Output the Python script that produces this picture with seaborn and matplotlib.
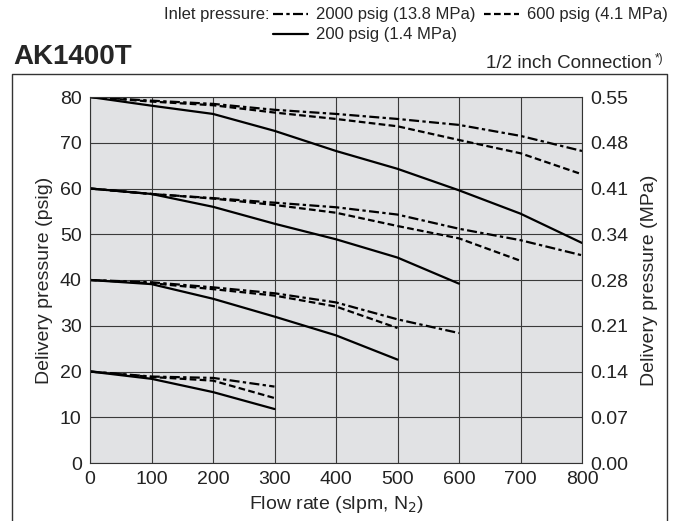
import numpy as np
import pandas as pd
import matplotlib
matplotlib.use("Agg")
import matplotlib.pyplot as plt
import seaborn as sns
from matplotlib.lines import Line2D

# ==== data ====
flow_ticks = [0, 100, 200, 300, 400, 500, 600, 700, 800]
psig_ticks = [0, 10, 20, 30, 40, 50, 60, 70, 80]
mpa_labels = ["0.00", "0.07", "0.14", "0.21", "0.28", "0.34", "0.41", "0.48", "0.55"]

# set point 80 psig
x80 = [0, 100, 200, 300, 400, 500, 600, 700, 800]
y80_2000 = [80, 79.2, 78.5, 77.2, 76.3, 75.2, 73.9, 71.5, 68.2]
y80_600 = [80, 79.0, 78.2, 76.6, 75.2, 73.6, 70.6, 67.7, 63.1]
y80_200 = [80, 78.1, 76.3, 72.6, 68.2, 64.3, 59.6, 54.5, 48.1]

# set point 60 psig
x60_2000 = [0, 100, 200, 300, 400, 500, 600, 700, 800]
y60_2000 = [60, 58.8, 57.9, 56.9, 55.9, 54.3, 51.2, 48.7, 45.4]
x60_600 = [0, 100, 200, 300, 400, 500, 600, 700]
y60_600 = [60, 58.8, 57.8, 56.4, 54.7, 51.8, 49.1, 44.2]
x60_200 = [0, 100, 200, 300, 400, 500, 600]
y60_200 = [60, 58.8, 56.0, 52.3, 48.9, 44.9, 39.2]

# set point 40 psig
x40_2000 = [0, 100, 200, 300, 400, 500, 600]
y40_2000 = [40, 39.5, 38.4, 37.1, 35.1, 31.4, 28.4]
x40_600 = [0, 100, 200, 300, 400, 500]
y40_600 = [40, 39.3, 38.0, 36.6, 34.2, 29.5]
x40_200 = [0, 100, 200, 300, 400, 500]
y40_200 = [40, 39.1, 35.9, 32.0, 27.9, 22.6]

# set point 20 psig
x20 = [0, 100, 200, 300]
y20_2000 = [20, 18.9, 18.6, 16.7]
y20_600 = [20, 18.8, 18.0, 14.2]
y20_200 = [20, 18.4, 15.5, 11.8]

curves = [
    ("2000", x80, y80_2000), ("600", x80, y80_600), ("200", x80, y80_200),
    ("2000", x60_2000, y60_2000), ("600", x60_600, y60_600), ("200", x60_200, y60_200),
    ("2000", x40_2000, y40_2000), ("600", x40_600, y40_600), ("200", x40_200, y40_200),
    ("2000", x20, y20_2000), ("600", x20, y20_600), ("200", x20, y20_200),
]

styles = {"2000": (0, (4.5, 1.5, 1.5, 1.5)), "600": (0, (3, 1.5)), "200": "-"}

sns.set_theme(style="white")
plt.rcParams["font.family"] = ["Liberation Sans", "DejaVu Sans"]

fig = plt.figure(figsize=(6.83, 5.21), dpi=100)
ax = fig.add_axes([90 / 683, 1 - 463 / 521, 492 / 683, 366 / 521])
ax.set_facecolor("#e1e2e4")

for inlet, xs, ys in curves:
    df = pd.DataFrame({"flow": xs, "p": ys})
    sns.lineplot(data=df, x="flow", y="p", ax=ax, color="black",
                 linestyle=styles[inlet], linewidth=1.6, estimator=None)

ax.set_xlim(0, 800)
ax.set_ylim(0, 80)
ax.set_xticks(flow_ticks)
ax.set_yticks(psig_ticks)
ax.grid(True, color="#3a3a3a", linewidth=0.8)
ax.set_axisbelow(True)
for s in ax.spines.values():
    s.set_color("#333333")
    s.set_linewidth(0.8)
ax.tick_params(labelsize=14, length=0, pad=6, colors="#222222")
ax.set_xlabel("Flow rate (slpm, N$_2$)", fontsize=14, labelpad=4)
ax.set_ylabel("Delivery pressure (psig)", fontsize=14, labelpad=5)

ax2 = ax.twinx()
ax2.set_ylim(0, 80)
ax2.set_yticks(psig_ticks)
ax2.set_yticklabels(mpa_labels)
ax2.tick_params(labelsize=14, length=0, pad=6, colors="#222222")
ax2.set_ylabel("Delivery pressure (MPa)", fontsize=14, labelpad=9)
for s in ax2.spines.values():
    s.set_visible(False)

# outer frame (left, top, right)
top = 1 - 74 / 521
l, r = 12 / 683, 667 / 683
fig.add_artist(Line2D([l, l, r, r], [0, top, top, 0], color="#333333", linewidth=1.0))

fig.text(13 / 683, 1 - 57 / 521, "AK1400T", fontsize=20, fontweight="bold", va="center")
fig.text(652 / 683, 1 - 63 / 521, "1/2 inch Connection", fontsize=13.5, ha="right", va="center")
fig.text(655 / 683, 1 - 59 / 521, "*)", fontsize=8.5, ha="left", va="center")

# legend at top
fs = 12
fig.text(270 / 683, 1 - 14 / 521, "Inlet pressure:", fontsize=fs, ha="right", va="center")
rows = [
    (273, 14, "2000", "2000 psig (13.8 MPa)"),
    (484, 14, "600", "600 psig (4.1 MPa)"),
    (273, 34, "200", "200 psig (1.4 MPa)"),
]
for x0, yc, key, label in rows:
    yy = 1 - yc / 521
    fig.add_artist(Line2D([x0 / 683, (x0 + 35) / 683], [yy, yy], color="black",
                          linewidth=1.6, linestyle=styles[key]))
    fig.text((x0 + 43) / 683, yy, label, fontsize=fs, va="center")

fig.savefig("out.png", dpi=100)
